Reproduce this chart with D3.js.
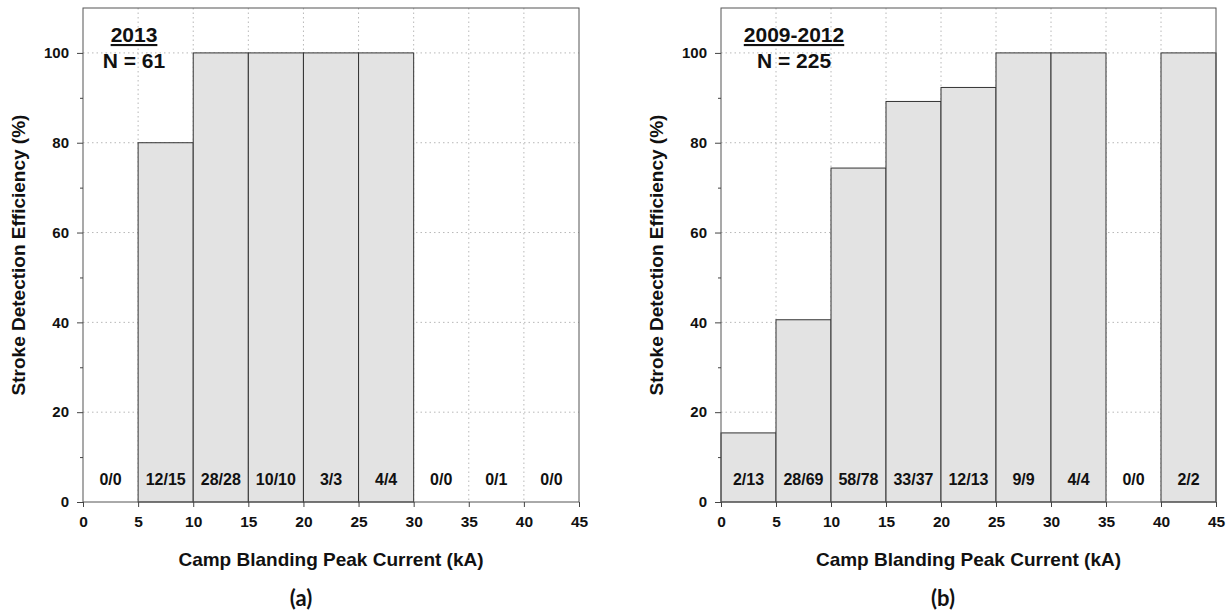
<!DOCTYPE html>
<html>
<head>
<meta charset="utf-8">
<script src="https://cdn.jsdelivr.net/npm/d3@7"></script>
<style>
  html, body { margin: 0; padding: 0; background: #fff; }
  svg { display: block; }
  text { font-family: "Liberation Sans", Arial, Helvetica, sans-serif; font-weight: bold; fill: #111; }
  .grid line { stroke: #b8b8b8; stroke-dasharray: 1.5 3; }
  .axis path, .axis line { stroke: #444; }
</style>
</head>
<body>
<svg id="chart" width="1231" height="614"></svg>
<script>
// Peak-current bins (kA), lower edges
const binStarts = [0, 5, 10, 15, 20, 25, 30, 35, 40];
const binWidth = 5;

// 2013 season: detected strokes / total strokes per bin
const detected2013 = [0, 12, 28, 10, 3, 4, 0, 0, 0];
const total2013    = [0, 15, 28, 10, 3, 4, 0, 1, 0];

// 2009-2012 seasons: detected strokes / total strokes per bin
const detected0912 = [2, 28, 58, 33, 12, 9, 4, 0, 2];
const total0912    = [13, 69, 78, 37, 13, 9, 4, 0, 2];

// Axis ticks
const xTicks = [0, 5, 10, 15, 20, 25, 30, 35, 40, 45];
const yTicks = [0, 20, 40, 60, 80, 100];
const yMinorTicks = [10, 30, 50, 70, 90];

const xTitle = "Camp Blanding Peak Current (kA)";
const yTitle = "Stroke Detection Efficiency (%)";

const svg = d3.select("#chart");
const plotTop = 8, plotBottom = 502;

function drawPanel(cfg) {
  const g = svg.append("g");
  const x = d3.scaleLinear().domain([0, 45]).range([cfg.left, cfg.right]);
  const y = d3.scaleLinear().domain([0, 110]).range([plotBottom, plotTop]);

  // dotted grid
  const grid = g.append("g").attr("class", "grid");
  grid.selectAll("line.v").data(xTicks.filter(t => t > 0 && t < 45)).join("line")
    .attr("class", "v")
    .attr("x1", d => x(d)).attr("x2", d => x(d))
    .attr("y1", plotTop).attr("y2", plotBottom);
  grid.selectAll("line.h").data(yTicks.filter(t => t > 0)).join("line")
    .attr("class", "h")
    .attr("x1", cfg.left).attr("x2", cfg.right)
    .attr("y1", d => y(d)).attr("y2", d => y(d));

  // bars: efficiency = detected / total
  const rows = binStarts.map((b, i) => ({
    start: b,
    det: cfg.detected[i],
    tot: cfg.total[i],
    eff: cfg.total[i] > 0 ? cfg.detected[i] / cfg.total[i] * 100 : null
  }));

  g.append("g").selectAll("rect").data(rows.filter(r => r.eff !== null)).join("rect")
    .attr("x", r => x(r.start))
    .attr("width", r => x(r.start + binWidth) - x(r.start))
    .attr("y", r => y(r.eff))
    .attr("height", r => y(0) - y(r.eff))
    .attr("fill", "#e3e3e3")
    .attr("stroke", "#333")
    .attr("stroke-width", 1);

  // count labels inside each bin
  g.append("g").selectAll("text").data(rows).join("text")
    .attr("x", r => x(r.start + binWidth / 2))
    .attr("y", 485)
    .attr("text-anchor", "middle")
    .style("font-size", "16px")
    .text(r => r.det + "/" + r.tot);

  // frame
  g.append("rect")
    .attr("x", cfg.left).attr("y", plotTop)
    .attr("width", cfg.right - cfg.left).attr("height", plotBottom - plotTop)
    .attr("fill", "none").attr("stroke", "#555").attr("stroke-width", 1);

  // axes
  const ax = g.append("g").attr("class", "axis")
    .attr("transform", `translate(0,${plotBottom})`)
    .call(d3.axisBottom(x).tickValues(xTicks).tickSize(5).tickPadding(9).tickSizeOuter(0));
  ax.select(".domain").remove();
  ax.selectAll("text").style("font-size", "15.5px").attr("fill", "#111");

  const ay = g.append("g").attr("class", "axis")
    .attr("transform", `translate(${cfg.left},0)`)
    .call(d3.axisLeft(y).tickValues(yTicks).tickSize(6).tickPadding(8).tickSizeOuter(0));
  ay.select(".domain").remove();
  ay.selectAll("text").style("font-size", "15px").attr("fill", "#111");

  const ayMinor = g.append("g").attr("class", "axis")
    .attr("transform", `translate(${cfg.left},0)`)
    .call(d3.axisLeft(y).tickValues(yMinorTicks).tickSize(3).tickFormat(""));
  ayMinor.select(".domain").remove();

  // axis titles
  g.append("text")
    .attr("x", (cfg.left + cfg.right) / 2).attr("y", 566)
    .attr("text-anchor", "middle").style("font-size", "19px")
    .text(xTitle);
  g.append("text")
    .attr("transform", `translate(${cfg.left - 58},${(plotTop + plotBottom) / 2}) rotate(-90)`)
    .attr("text-anchor", "middle").style("font-size", "19px")
    .text(yTitle);

  // period heading, underlined, and sample size
  g.append("text")
    .attr("x", cfg.headX).attr("y", 42)
    .attr("text-anchor", "middle").style("font-size", "21px")
    .attr("text-decoration", "underline")
    .text(cfg.period);
  g.append("text")
    .attr("x", cfg.headX).attr("y", 68)
    .attr("text-anchor", "middle").style("font-size", "21px")
    .text("N = " + d3.sum(cfg.total));

  // panel letter
  g.append("text")
    .attr("x", cfg.letterX).attr("y", 606)
    .attr("text-anchor", "middle")
    .style("font-family", "Lato, 'Open Sans', sans-serif")
    .style("font-size", "22px")
    .text(cfg.letter);
}

drawPanel({ left: 83, right: 579, detected: detected2013, total: total2013,
            period: "2013", headX: 134, letter: "(a)", letterX: 301 });
drawPanel({ left: 721, right: 1216, detected: detected0912, total: total0912,
            period: "2009-2012", headX: 794, letter: "(b)", letterX: 943 });
</script>
</body>
</html>
